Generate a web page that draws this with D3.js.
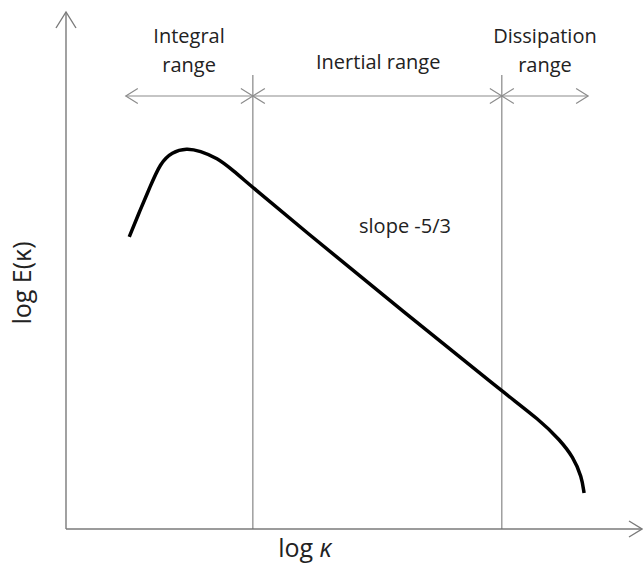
<!DOCTYPE html>
<html>
<head>
<meta charset="utf-8">
<script src="https://cdn.jsdelivr.net/npm/d3@7"></script>
<style>
  body { margin: 0; background: #fff; }
  text { font-family: "Open Sans", "Noto Sans", sans-serif; fill: #222; }
</style>
</head>
<body>
<div id="chart"></div>
<script>
// log k values of the spectrum curve
const logK = [1.10, 1.29, 1.46, 1.64, 1.84, 2.10, 2.33, 2.63, 2.90, 3.24, 4.07, 5.81, 7.60, 8.24, 8.59, 8.82, 8.97, 9.01];
// log E(k) values of the spectrum curve
const logE = [10.33, 11.28, 12.09, 12.94, 13.33, 13.47, 13.37, 13.12, 12.69, 12.09, 10.68, 7.78, 4.84, 3.85, 3.15, 2.55, 1.84, 1.27];
// range boundaries in log k
const boundaries = [3.25, 7.58];
// range arrows: start and end in log k
const rangeStart = 1.04;
const rangeEnd = 9.08;
const rangeNames = [["Integral", "range"], ["Inertial range"], ["Dissipation", "range"]];
const rangeCenters = [2.14, 5.43, 8.33];

const width = 643, height = 574;
const svg = d3.select("#chart").append("svg")
  .attr("width", width).attr("height", height);

const x = d3.scaleLinear().domain([0, 10]).range([66, 641]);
const y = d3.scaleLinear().domain([0, 18]).range([529, 20]);

const axisColor = "#7a7a7a";

// axes
svg.append("line")
  .attr("x1", x(0)).attr("y1", y(0)).attr("x2", x(0)).attr("y2", 12)
  .attr("stroke", axisColor).attr("stroke-width", 1.4);
svg.append("path")
  .attr("d", `M${x(0) - 10},28 L${x(0)},12 L${x(0) + 10},28`)
  .attr("fill", "none").attr("stroke", axisColor).attr("stroke-width", 1.4);
svg.append("line")
  .attr("x1", x(0)).attr("y1", y(0)).attr("x2", 642).attr("y2", y(0))
  .attr("stroke", axisColor).attr("stroke-width", 1.4);
svg.append("path")
  .attr("d", `M629,${y(0) - 8} L642,${y(0)} L629,${y(0) + 8}`)
  .attr("fill", "none").attr("stroke", axisColor).attr("stroke-width", 1.4);

// boundary lines
svg.selectAll(".boundary")
  .data(boundaries)
  .join("line")
  .attr("class", "boundary")
  .attr("x1", d => x(d)).attr("x2", d => x(d))
  .attr("y1", 75).attr("y2", y(0))
  .attr("stroke", "#6e6e6e").attr("stroke-width", 1);

// range arrows
const arrowY = 96;
const arrowColor = "#8c8c8c";
const stops = [rangeStart].concat(boundaries).concat([rangeEnd]);
svg.append("line")
  .attr("x1", x(rangeStart)).attr("x2", x(rangeEnd))
  .attr("y1", arrowY).attr("y2", arrowY)
  .attr("stroke", arrowColor).attr("stroke-width", 1.2);
for (let i = 0; i < stops.length - 1; i++) {
  const a = x(stops[i]), b = x(stops[i + 1]);
  svg.append("path")
    .attr("d", `M${a + 12},${arrowY - 7.5} L${a},${arrowY} L${a + 12},${arrowY + 7.5}`)
    .attr("fill", "none").attr("stroke", arrowColor).attr("stroke-width", 1.2);
  svg.append("path")
    .attr("d", `M${b - 12},${arrowY - 7.5} L${b},${arrowY} L${b - 12},${arrowY + 7.5}`)
    .attr("fill", "none").attr("stroke", arrowColor).attr("stroke-width", 1.2);
}

// range labels
rangeNames.forEach((lines, i) => {
  const t = svg.append("text")
    .attr("x", x(rangeCenters[i]))
    .attr("text-anchor", "middle")
    .attr("font-size", 20);
  if (lines.length === 2) {
    t.append("tspan").attr("x", x(rangeCenters[i])).attr("y", 43).text(lines[0]);
    t.append("tspan").attr("x", x(rangeCenters[i])).attr("y", 72).text(lines[1]);
  } else {
    t.attr("y", 69).text(lines[0]);
  }
});

// spectrum curve
const pts = logK.map((k, i) => [k, logE[i]]);
const line = d3.line()
  .x(d => x(d[0])).y(d => y(d[1]))
  .curve(d3.curveBasis);
svg.append("path")
  .datum(pts)
  .attr("d", line)
  .attr("fill", "none")
  .attr("stroke", "#000")
  .attr("stroke-width", 3.5)
  .attr("stroke-linecap", "butt");

svg.append("text")
  .attr("x", 405).attr("y", 233)
  .attr("text-anchor", "middle")
  .attr("font-size", 20)
  .text("slope -5/3");

// axis titles
svg.append("text")
  .attr("transform", "translate(31,283) rotate(-90)")
  .attr("text-anchor", "middle")
  .attr("font-size", 25)
  .text("log E(κ)");

const xt = svg.append("text")
  .attr("x", 305).attr("y", 557)
  .attr("text-anchor", "middle")
  .attr("font-size", 25);
xt.append("tspan").text("log ");
xt.append("tspan").attr("font-style", "italic").text("κ");
</script>
</body>
</html>
